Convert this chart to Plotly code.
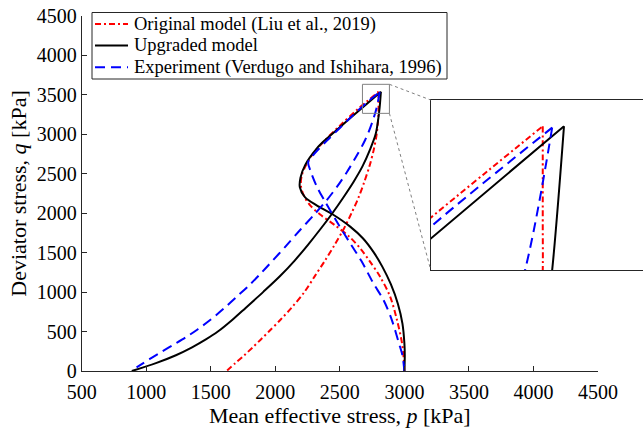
import plotly.graph_objects as go

# ---------------- data ----------------
# Original model (Liu et al., 2019): loading branch, then unloading branch
red_load_p = [3000, 2995, 2982, 2942, 2888, 2810, 2728, 2660, 2575, 2460, 2350, 2270, 2222, 2198, 2205, 2235, 2290, 2370, 2500, 2640, 2800]
red_load_q = [0, 150, 350, 650, 950, 1200, 1400, 1550, 1700, 1850, 1980, 2100, 2220, 2350, 2480, 2600, 2750, 2900, 3110, 3320, 3540]
red_unl_p = [2800, 2800, 2800, 2797, 2785, 2762, 2730, 2690, 2645, 2590, 2530, 2460, 2385, 2305, 2225, 2125, 2040, 1950, 1888, 1825, 1760, 1690, 1622]
red_unl_q = [3540, 3400, 3337, 3200, 3000, 2800, 2600, 2400, 2200, 2000, 1800, 1600, 1400, 1200, 1000, 800, 650, 500, 400, 300, 200, 100, 0]

# Upgraded model
blk_load_p = [3000, 3003, 3000, 2985, 2950, 2895, 2830, 2760, 2680, 2580, 2440, 2320, 2231, 2190, 2195, 2231, 2322, 2386, 2500, 2640, 2818]
blk_load_q = [0, 200, 351, 600, 850, 1100, 1320, 1510, 1680, 1830, 1990, 2100, 2200, 2330, 2450, 2610, 2822, 2928, 3090, 3290, 3540]
blk_unl_p = [2818, 2808, 2798, 2777, 2732, 2677, 2607, 2527, 2442, 2350, 2253, 2150, 2035, 1905, 1770, 1668, 1555, 1462, 1355, 1230, 1075, 888]
blk_unl_q = [3540, 3337, 3200, 3000, 2800, 2600, 2400, 2200, 2000, 1800, 1600, 1400, 1200, 1000, 800, 650, 500, 400, 300, 200, 100, 0]

# Experiment (Verdugo and Ishihara, 1996)
blu_load_p = [3000, 2992, 2981, 2958, 2903, 2838, 2760, 2665, 2580, 2477, 2386, 2322, 2270, 2255, 2300, 2400, 2500, 2600, 2705, 2808]
blu_load_q = [0, 120, 224, 351, 646, 900, 1111, 1400, 1618, 1892, 2146, 2336, 2548, 2650, 2750, 2920, 3080, 3240, 3398, 3538]
blu_unl_p = [2808, 2785, 2748, 2696, 2620, 2554, 2480, 2399, 2300, 2192, 2080, 1960, 1895, 1800, 1701, 1600, 1495, 1400, 1314, 1218, 1120, 1025, 925]
blu_unl_q = [3538, 3337, 3139, 2928, 2700, 2520, 2340, 2167, 1980, 1787, 1580, 1365, 1250, 1090, 942, 790, 646, 530, 435, 340, 245, 150, 45]

x_ticks = [500, 1000, 1500, 2000, 2500, 3000, 3500, 4000, 4500]
y_ticks = [0, 500, 1000, 1500, 2000, 2500, 3000, 3500, 4000, 4500]
names = ["Original model (Liu et al., 2019)", "Upgraded model", "Experiment (Verdugo and Ishihara, 1996)"]

# ---------------- layout constants ----------------
W, H = 643, 431
XR = [500, 4500]
YR = [0, 4500]
XD = [81.7 / W, 598 / W]
YD = [(H - 371) / H, (H - 16) / H]
IXR = [2705, 2885]
IYR = [3337, 3577]
IXD = [430.7 / W, 1.0]
IYD = [(H - 270) / H, (H - 100) / H]
ZOOM_BOX = [2675, 2884, 3266, 3634]  # marker box drawn in the main axes

FONT = "Liberation Serif"
AX = "#262626"

def paper_x(p):
    return XD[0] + (p - XR[0]) / (XR[1] - XR[0]) * (XD[1] - XD[0])

def paper_y(q):
    return YD[0] + (q - YR[0]) / (YR[1] - YR[0]) * (YD[1] - YD[0])

styles = [
    dict(color="#ff0000", width=2, dash="6px,3px,2px,3px"),
    dict(color="#000000", width=2, dash="solid"),
    dict(color="#0000ff", width=2, dash="10px,6px"),
]
series = [
    (red_load_p, red_load_q, red_unl_p, red_unl_q),
    (blk_load_p, blk_load_q, blk_unl_p, blk_unl_q),
    (blu_load_p, blu_load_q, blu_unl_p, blu_unl_q),
]

fig = go.Figure()
for i, (lp, lq, up, uq) in enumerate(series):
    for xa, ya in [("x", "y"), ("x2", "y2")]:
        for pp, qq in [(lp, lq), (up, uq)]:
            fig.add_trace(go.Scatter(
                x=pp, y=qq, mode="lines", xaxis=xa, yaxis=ya,
                line=dict(shape="spline", smoothing=0.9, **styles[i]),
                name=names[i], showlegend=False, hoverinfo="skip",
            ))

axis_common = dict(showgrid=False, zeroline=False, showline=True, linecolor=AX,
                   linewidth=1, ticks="inside", ticklen=5, tickcolor=AX,
                   tickfont=dict(family=FONT, size=20, color="#000000"))

fig.update_layout(
    width=W, height=H, autosize=False, template="none",
    margin=dict(l=0, r=0, t=0, b=0),
    paper_bgcolor="white", plot_bgcolor="white",
    font=dict(family=FONT, color="#000000"),
    showlegend=False,
    xaxis=dict(domain=XD, range=XR, tickvals=x_ticks, anchor="y", ticklabelstandoff=3, **axis_common,
               title=dict(text="Mean effective stress, <i>p</i> [kPa]", font=dict(family=FONT, size=22), standoff=4)),
    yaxis=dict(domain=YD, range=YR, tickvals=y_ticks, anchor="x", **axis_common,
               title=dict(text="Deviator stress, <i>q</i> [kPa]", font=dict(family=FONT, size=22), standoff=4)),
    xaxis2=dict(domain=IXD, range=IXR, anchor="y2", showgrid=False, zeroline=False, showline=True,
                mirror=True, linecolor=AX, linewidth=1, showticklabels=False, ticks=""),
    yaxis2=dict(domain=IYD, range=IYR, anchor="x2", showgrid=False, zeroline=False, showline=True,
                mirror=True, linecolor=AX, linewidth=1, showticklabels=False, ticks=""),
)

# zoom marker box and connector lines
fig.add_shape(type="rect", xref="x", yref="y", x0=ZOOM_BOX[0], x1=ZOOM_BOX[1], y0=ZOOM_BOX[2], y1=ZOOM_BOX[3],
              line=dict(color="#808080", width=1))
fig.add_shape(type="line", xref="paper", yref="paper",
              x0=paper_x(ZOOM_BOX[1]), y0=paper_y(ZOOM_BOX[3]), x1=IXD[0], y1=IYD[1],
              line=dict(color="#808080", width=1, dash="dot"))
fig.add_shape(type="line", xref="paper", yref="paper",
              x0=paper_x(ZOOM_BOX[1]), y0=paper_y(ZOOM_BOX[2]), x1=IXD[0], y1=IYD[0],
              line=dict(color="#808080", width=1, dash="dot"))

# legend (MATLAB-style box with compact rows)
LEG = dict(left=92, right=447, top=12.5, bottom=79, rows=[24, 45.5, 67.3], s0=95, s1=128, tx=131.7)
fig.add_shape(type="rect", xref="paper", yref="paper",
              x0=LEG["left"] / W, x1=LEG["right"] / W, y0=(H - LEG["bottom"]) / H, y1=(H - LEG["top"]) / H,
              fillcolor="white", line=dict(color=AX, width=1))
for i, ry in enumerate(LEG["rows"]):
    fig.add_shape(type="line", xref="paper", yref="paper",
                  x0=LEG["s0"] / W, x1=LEG["s1"] / W, y0=(H - ry) / H, y1=(H - ry) / H,
                  line=styles[i])
    fig.add_annotation(xref="paper", yref="paper", x=LEG["tx"] / W, y=(H - ry) / H,
                       xanchor="left", yanchor="middle", text=names[i], showarrow=False,
                       font=dict(family=FONT, size=18.5, color="#000000"))

fig.write_html("out.html")
